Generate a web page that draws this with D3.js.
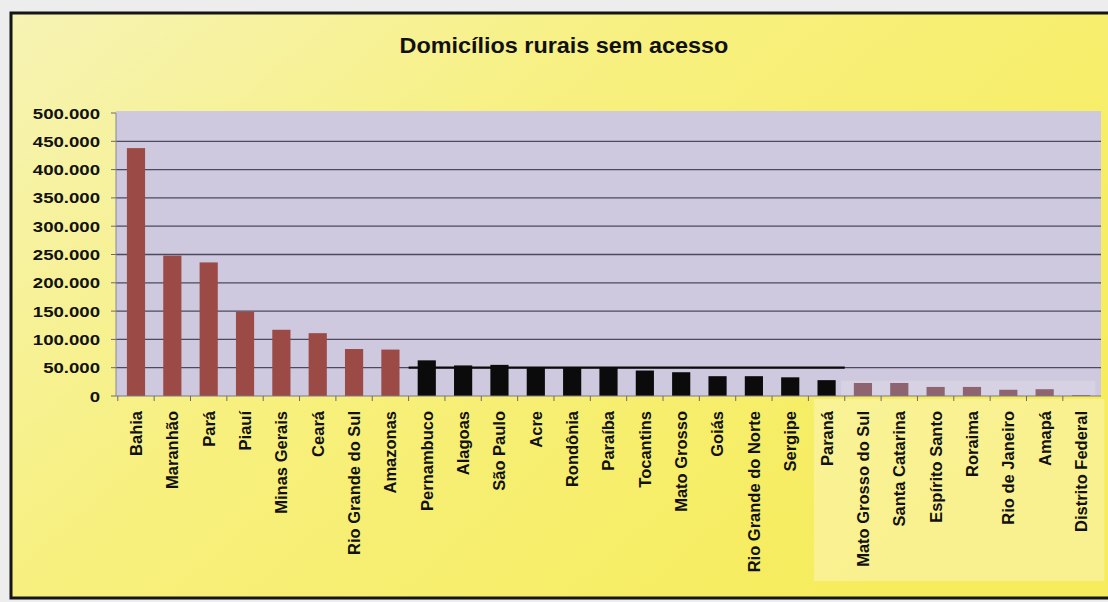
<!DOCTYPE html>
<html lang="pt">
<head>
<meta charset="UTF-8">
<title>Domicílios rurais sem acesso</title>
<script src="https://cdn.jsdelivr.net/npm/d3@7"></script>
<style>
  body { margin: 0; background: #ededed; }
  svg text { font-family: "Liberation Sans", Arial, sans-serif; font-weight: bold; fill: #111; }
</style>
</head>
<body>
<svg id="chart"></svg>
<script>
// states, sorted as in the picture
var estados = ["Bahia", "Maranhão", "Pará", "Piauí", "Minas Gerais", "Ceará",
  "Rio Grande do Sul", "Amazonas", "Pernambuco", "Alagoas", "São Paulo", "Acre",
  "Rondônia", "Paraíba", "Tocantins", "Mato Grosso", "Goiás", "Rio Grande do Norte",
  "Sergipe", "Paraná", "Mato Grosso do Sul", "Santa Catarina", "Espírito Santo",
  "Roraima", "Rio de Janeiro", "Amapá", "Distrito Federal"];

// rural households without access
var domicilios = [438000, 248000, 236000, 149000, 117000, 111000,
  83000, 82000, 63000, 54000, 55000, 51000,
  51000, 50000, 45000, 42000, 35000, 35000,
  33000, 28000, 23000, 23000, 16000,
  16000, 11000, 12000, 1500];

// which colour group each bar is in
var grupo = ["a","a","a","a","a","a","a","a",
  "b","b","b","b","b","b","b","b","b","b","b","b",
  "c","c","c","c","c","c","c"];

var yTicks = [0, 50000, 100000, 150000, 200000, 250000, 300000, 350000, 400000, 450000, 500000];

var W = 1108, H = 602;
var margin = {left: 116, right: 7, top: 113, bottom: 206};

var svg = d3.select("#chart").attr("width", W).attr("height", H);

// background gradient, pale at top left, stronger yellow on the right
var defs = svg.append("defs");
var grad = defs.append("linearGradient").attr("id", "bg")
  .attr("x1", "0").attr("y1", "0").attr("x2", "1").attr("y2", "0.6");
grad.append("stop").attr("offset", "0").attr("stop-color", "#f6f3b4");
grad.append("stop").attr("offset", "0.45").attr("stop-color", "#f7f07e");
grad.append("stop").attr("offset", "1").attr("stop-color", "#f6ec5c");

svg.append("rect").attr("x", 11).attr("y", 13).attr("width", W + 10).attr("height", 585)
  .attr("fill", "url(#bg)").attr("stroke", "#151515").attr("stroke-width", 3);

var x = d3.scaleBand().domain(estados)
  .range([margin.left, W - margin.right])
  .paddingInner(0.5).paddingOuter(0.3);

var y = d3.scaleLinear().domain([0, 500000])
  .range([H - margin.bottom, margin.top]);

// plot area
svg.append("rect")
  .attr("x", margin.left).attr("y", y(500000) - 2)
  .attr("width", W - margin.right - margin.left)
  .attr("height", y(0) - y(500000) + 2)
  .attr("fill", "#cec9de");

// grid lines
svg.append("g").selectAll("line")
  .data(yTicks.filter(function(d){ return d > 0 && d < 500000; }))
  .enter().append("line")
  .attr("x1", margin.left).attr("x2", W - margin.right)
  .attr("y1", function(d){ return y(d); })
  .attr("y2", function(d){ return y(d); })
  .attr("stroke", "#4c4a5c").attr("stroke-width", 1.3);

// darker stretch of the 50.000 line over the black bars
var grupoB = estados.filter(function(d, i){ return grupo[i] === "b"; });
svg.append("line")
  .attr("x1", x(grupoB[0]) - x.step() * 0.25)
  .attr("x2", x(grupoB[grupoB.length - 1]) + x.bandwidth() + x.step() * 0.25)
  .attr("y1", y(50000)).attr("y2", y(50000))
  .attr("stroke", "#0a0a0a").attr("stroke-width", 2.2);

// pale patch behind the last bars and labels
var grupoC = estados.filter(function(d, i){ return grupo[i] === "c"; });
svg.append("rect")
  .attr("x", x(grupoC[0]) - x.step() * 0.35)
  .attr("y", y(27000))
  .attr("width", W - x(grupoC[0]))
  .attr("height", y(0) - y(27000))
  .attr("fill", "#ffffff").attr("opacity", 0.18);
svg.append("rect")
  .attr("x", x("Paraná") - x.step() * 0.1)
  .attr("y", y(0) + 3)
  .attr("width", W - x("Paraná"))
  .attr("height", 182)
  .attr("fill", "#fffbdc").attr("opacity", 0.4);

var cores = {a: "#9b4a46", b: "#0b0b0b", c: "#8d6470"};

svg.append("g").selectAll("rect")
  .data(estados)
  .enter().append("rect")
  .attr("x", function(d){ return x(d); })
  .attr("width", x.bandwidth())
  .attr("y", function(d, i){ return y(domicilios[i]); })
  .attr("height", function(d, i){ return y(0) - y(domicilios[i]); })
  .attr("fill", function(d, i){ return cores[grupo[i]]; });

// y axis
var yAxis = svg.append("g").attr("transform", "translate(" + margin.left + ",0)");
yAxis.append("line").attr("y1", y(500000)).attr("y2", y(0))
  .attr("stroke", "#8a8794").attr("stroke-width", 1);
yAxis.selectAll("line.tick").data(yTicks).enter().append("line")
  .attr("class", "tick")
  .attr("x1", -5).attr("x2", 0)
  .attr("y1", function(d){ return y(d); }).attr("y2", function(d){ return y(d); })
  .attr("stroke", "#6a6870");
yAxis.selectAll("text").data(yTicks).enter().append("text")
  .attr("transform", function(d){ return "translate(-16," + y(d) + ") scale(1.2,1)"; })
  .attr("dy", "0.36em")
  .attr("text-anchor", "end")
  .attr("font-size", 15.5)
  .text(function(d){ return d3.format(",")(d).replace(/,/g, "."); });

// x axis
var xAxis = svg.append("g").attr("transform", "translate(0," + y(0) + ")");
xAxis.append("line").attr("x1", margin.left).attr("x2", W - margin.right)
  .attr("stroke", "#7a7884").attr("stroke-width", 1);
xAxis.selectAll("line.tick").data(estados).enter().append("line")
  .attr("class", "tick")
  .attr("x1", function(d){ return x(d) - x.step() * x.paddingInner() / 2; })
  .attr("x2", function(d){ return x(d) - x.step() * x.paddingInner() / 2; })
  .attr("y1", 0).attr("y2", 5)
  .attr("stroke", "#6a6870");
xAxis.selectAll("text").data(estados).enter().append("text")
  .attr("transform", function(d){
    return "translate(" + (x(d) + x.bandwidth() / 2) + ",15) rotate(-90)";
  })
  .attr("dy", "0.36em")
  .attr("text-anchor", "end")
  .attr("font-size", 16.5)
  .text(function(d){ return d; });

// title
svg.append("text")
  .attr("transform", "translate(564,53) scale(1.04,1)")
  .attr("text-anchor", "middle")
  .attr("font-size", 22.5)
  .text("Domicílios rurais sem acesso");
</script>
</body>
</html>
